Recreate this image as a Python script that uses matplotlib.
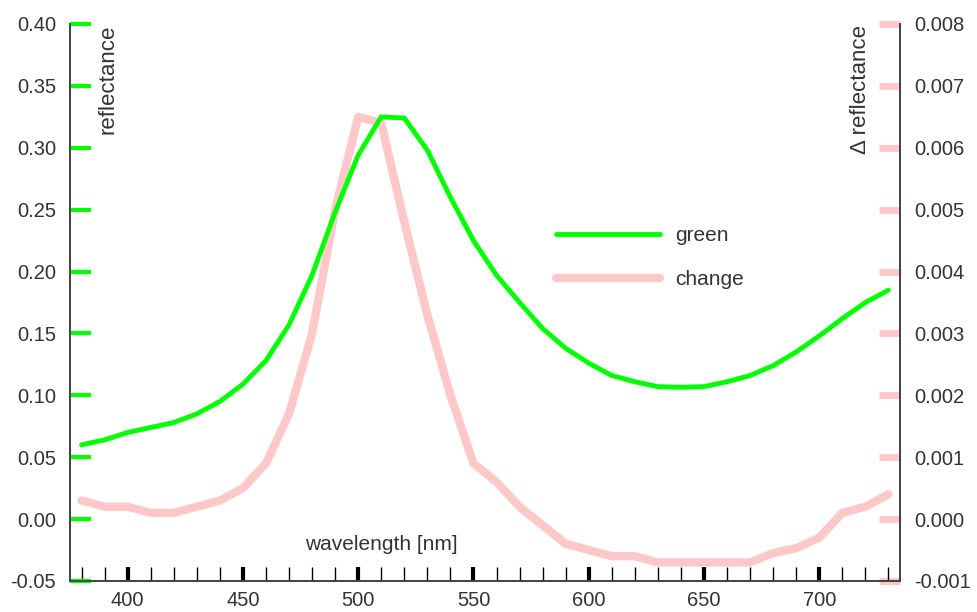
import numpy as np
import matplotlib
matplotlib.use("Agg")
import matplotlib.pyplot as plt
from matplotlib.ticker import MultipleLocator, FormatStrFormatter

plt.rcParams['font.family'] = ['Liberation Sans', 'DejaVu Sans']

wavelength = list(range(380, 740, 10))
green = [0.060, 0.064, 0.070, 0.074, 0.078, 0.085, 0.095, 0.109, 0.128, 0.157,
         0.197, 0.248, 0.294, 0.325, 0.324, 0.298, 0.260, 0.225, 0.197, 0.175,
         0.154, 0.138, 0.126, 0.116, 0.111, 0.107, 0.1065, 0.107, 0.111, 0.116,
         0.124, 0.135, 0.148, 0.162, 0.175, 0.185]
change = [0.0003, 0.0002, 0.0002, 0.0001, 0.0001, 0.0002, 0.0003, 0.0005, 0.0009, 0.0017,
          0.0030, 0.0050, 0.0065, 0.0064, 0.0048, 0.0033, 0.0020, 0.0009, 0.0006, 0.0002,
          -0.0001, -0.0004, -0.0005, -0.0006, -0.0006, -0.0007, -0.0007, -0.0007, -0.0007, -0.0007,
          -0.00055, -0.00047, -0.0003, 0.0001, 0.0002, 0.0004]

green_col = '#00ff00'
pink_col = '#ffc8c8'
txt_col = '#333333'

fig = plt.figure(figsize=(9.78, 6.12), dpi=100)
ax = fig.add_axes([0.0716, 0.0507, 0.8486, 0.9101])
ax2 = ax.twinx()

l1, = ax.plot(wavelength, green, color=green_col, lw=3.5, solid_capstyle='round', label='green', zorder=3)
l2, = ax2.plot(wavelength, change, color=pink_col, lw=6, solid_capstyle='round', label='change', zorder=2)
ax.set_zorder(ax2.get_zorder() + 1)
ax.patch.set_visible(False)

ax.set_xlim(375, 735)
ax.set_ylim(-0.05, 0.40)
ax2.set_ylim(-0.001, 0.008)

ax.yaxis.set_major_locator(MultipleLocator(0.05))
ax.yaxis.set_major_formatter(FormatStrFormatter('%.2f'))
ax2.yaxis.set_major_locator(MultipleLocator(0.001))
ax2.yaxis.set_major_formatter(FormatStrFormatter('%.3f'))
ax.xaxis.set_major_locator(MultipleLocator(50))
ax.xaxis.set_minor_locator(MultipleLocator(10))

for a in (ax, ax2):
    for s in a.spines.values():
        s.set_color('#444444')
        s.set_linewidth(1.3)
    a.spines['top'].set_visible(False)

ax.tick_params(axis='y', direction='in', length=15, width=3, color=green_col,
               labelsize=14.5, labelcolor=txt_col, pad=10)
ax2.tick_params(axis='y', direction='in', length=15, width=5, color=pink_col,
                labelsize=14.5, labelcolor=txt_col, pad=10)
ax.tick_params(axis='x', which='major', direction='in', length=10, width=3, color='black',
               labelsize=14.5, labelcolor=txt_col, pad=7)
ax.tick_params(axis='x', which='minor', direction='in', length=10, width=1, color='black')

ax.text(0.046, 0.998, 'reflectance', transform=ax.transAxes, rotation=90,
        ha='center', va='top', fontsize=16, color=txt_col)
ax2.text(0.953, 0.998, '\u0394 reflectance', transform=ax2.transAxes, rotation=90,
         ha='center', va='top', fontsize=16, color=txt_col)
ax.text(0.375, 0.065, 'wavelength [nm]', transform=ax.transAxes,
        ha='center', va='center', fontsize=15, color=txt_col)

leg = ax.legend([l1, l2], ['green', 'change'], loc='center left', bbox_to_anchor=(0.563, 0.58),
                frameon=False, handlelength=5.0, handletextpad=0.7, labelspacing=1.2,
                fontsize=15)
for t in leg.get_texts():
    t.set_color(txt_col)

fig.savefig('out.png', dpi=100)
